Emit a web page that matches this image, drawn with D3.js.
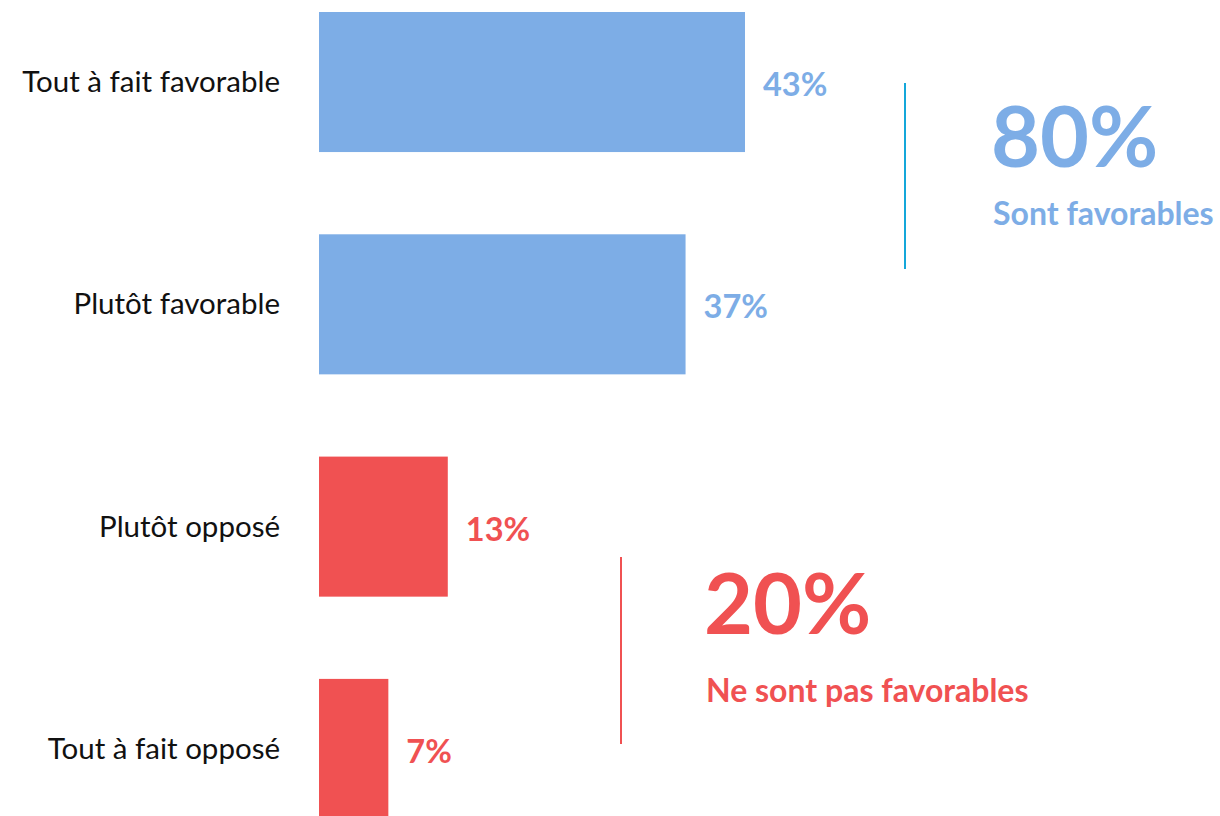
<!DOCTYPE html>
<html><head><meta charset="utf-8">
<script src="https://cdn.jsdelivr.net/npm/d3@7"></script>
<style>body{margin:0;background:#fff;}svg{display:block;}</style>
</head><body>
<svg id="c" width="1220" height="816"></svg>
<script>
const categories = ["Tout à fait favorable", "Plutôt favorable", "Plutôt opposé", "Tout à fait opposé"];
const values = [43, 37, 13, 7];
const groups = ["favorable", "favorable", "oppose", "oppose"];
const summaryValues = [80, 20];
const summaryLabels = ["Sont favorables", "Ne sont pas favorables"];

const colors = {favorable: "#7DADE6", oppose: "#F05152"};
const FONT = "Lato, 'Open Sans', sans-serif";

const svg = d3.select("#c");
const x = d3.scaleLinear().domain([0, 43]).range([319, 745]);
const step = 222.3;
const y = d3.scaleBand().domain(categories)
  .range([12 - step * 0.185, 12 - step * 0.185 + step * 4])
  .paddingInner(0.37).paddingOuter(0.185);

svg.selectAll("rect.bar").data(categories).join("rect")
  .attr("class", "bar")
  .attr("x", x(0))
  .attr("y", d => y(d))
  .attr("width", (d, i) => x(values[i]) - x(0))
  .attr("height", y.bandwidth())
  .attr("fill", (d, i) => colors[groups[i]]);

svg.selectAll("text.cat").data(categories).join("text")
  .attr("class", "cat")
  .attr("x", 280)
  .attr("y", d => y(d) + y.bandwidth() / 2 + 10)
  .attr("text-anchor", "end")
  .attr("font-family", FONT)
  .attr("font-size", 29.5)
  .attr("fill", "#111")
  .text(d => d);

svg.selectAll("text.val").data(categories).join("text")
  .attr("class", "val")
  .attr("x", (d, i) => x(values[i]) + 18)
  .attr("y", d => y(d) + y.bandwidth() / 2 + 14)
  .attr("font-family", FONT)
  .attr("font-weight", "bold")
  .attr("font-size", 32.5)
  .attr("fill", (d, i) => colors[groups[i]])
  .text((d, i) => values[i] + "%");

// summary blocks
const summaries = [
  {lineX: 905, y1: 83, y2: 269, lineColor: "#14A7DA", color: colors.favorable, tx: 991, bigY: 167, smallY: 225},
  {lineX: 621, y1: 557, y2: 744, lineColor: "#F05152", color: colors.oppose, tx: 704, bigY: 634, smallY: 702}
];
summaries.forEach((s, i) => {
  svg.append("line").attr("x1", s.lineX).attr("x2", s.lineX).attr("y1", s.y1).attr("y2", s.y2)
    .attr("stroke", s.lineColor).attr("stroke-width", 2);
  svg.append("text").attr("x", s.tx).attr("y", s.bigY)
    .attr("font-family", FONT).attr("font-weight", "bold").attr("font-size", 84.5)
    .attr("fill", s.color).text(summaryValues[i] + "%");
  svg.append("text").attr("x", s.tx + 2).attr("y", s.smallY)
    .attr("font-family", FONT).attr("font-weight", "bold").attr("font-size", 32)
    .attr("fill", s.color).text(summaryLabels[i]);
});
</script>
</body></html>
